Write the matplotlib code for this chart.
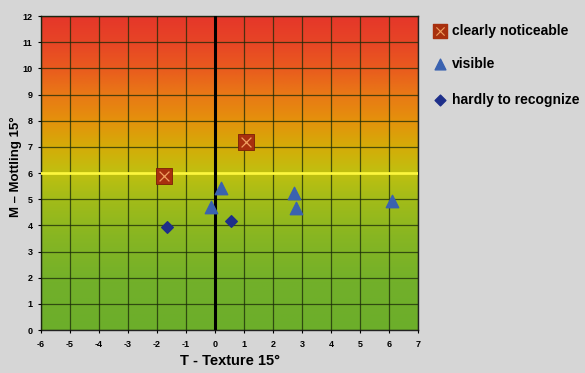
import matplotlib
matplotlib.use("Agg")
import matplotlib.pyplot as plt
import numpy as np
from matplotlib.colors import LinearSegmentedColormap

plt.rcParams['font.family'] = ['Liberation Sans', 'DejaVu Sans']
plt.rcParams['font.weight'] = 'bold'
plt.rcParams['axes.unicode_minus'] = False

# data
clear_x = [-1.75, 1.07]
clear_y = [5.9, 7.2]
visible_x = [0.21, -0.14, 2.72, 2.79, 6.1]
visible_y = [5.43, 4.72, 5.23, 4.68, 4.93]
hardly_x = [-1.66, 0.55]
hardly_y = [3.95, 4.18]
legend_labels = ["clearly noticeable", "visible", "hardly to recognize"]

bg = "#d6d6d6"
fig = plt.figure(figsize=(5.85, 3.73), dpi=100, facecolor=bg)
ax = fig.add_axes([0.070, 0.115, 0.645, 0.842])

# background gradient (bottom -> top)
stops = [(0.0, "#6cae2a"), (0.15, "#72b02a"), (0.3, "#88b622"),
         (0.42, "#a4bc18"), (0.5, "#c0c010"), (0.58, "#d4ac08"),
         (0.67, "#e5900c"), (0.75, "#e97816"), (0.84, "#e9581f"),
         (0.92, "#e74426"), (1.0, "#e5362a")]
cmap = LinearSegmentedColormap.from_list("bg", stops)
grad = np.linspace(0, 1, 256).reshape(-1, 1)
ax.imshow(grad, cmap=cmap, aspect='auto', origin='lower',
          extent=[-6, 7, 0, 12], zorder=0)

ax.set_xlim(-6, 7)
ax.set_ylim(0, 12)
ax.set_xticks(np.arange(-6, 8, 1))
ax.set_yticks(np.arange(0, 13, 1))
ax.grid(True, color="#1a2a08", linewidth=0.9, alpha=0.75)
ax.set_axisbelow(False)

ax.axhline(6, color="#fcf63c", linewidth=2.0, zorder=3)
ax.axvline(0, color="black", linewidth=2.2, zorder=3)

ax.scatter(clear_x, clear_y, marker='s', s=130, color="#a8300e",
           edgecolors="#7a1e08", linewidths=0.6, zorder=4)
ax.scatter(clear_x, clear_y, marker='x', s=50, color="#f0a060",
           linewidths=0.9, zorder=5)
ax.scatter(visible_x, visible_y, marker='^', s=80, color="#3a62b0",
           zorder=4)
ax.scatter(hardly_x, hardly_y, marker='D', s=35, color="#1e2f8a",
           zorder=4)

for s in ax.spines.values():
    s.set_color("#222222")
    s.set_linewidth(1.0)
ax.tick_params(labelsize=6.5, length=2, width=0.8)
ax.tick_params(axis='y', pad=4)
ax.tick_params(axis='x', pad=5)
ax.set_xlabel("T - Texture 15°", fontsize=10.5, fontweight='bold', labelpad=4)
ax.set_ylabel("M \u2013 Mottling 15°", fontsize=9.5, fontweight='bold')
ax.yaxis.set_label_coords(-0.05, 0.52)

# legend drawn as text + markers in figure coords
lx_m, lx_t = 0.752, 0.772
ly = [0.918, 0.828, 0.733]
axl = fig.add_axes([0, 0, 1, 1], facecolor='none')
axl.set_xlim(0, 1)
axl.set_ylim(0, 1)
axl.axis('off')
axl.scatter([lx_m], [ly[0]], marker='s', s=90, color="#a8300e", zorder=3)
axl.scatter([lx_m], [ly[0]], marker='x', s=35, color="#f0a060", linewidths=0.8, zorder=4)
axl.scatter([lx_m], [ly[1]], marker='^', s=60, color="#3a62b0")
axl.scatter([lx_m], [ly[2]], marker='D', s=30, color="#1e2f8a")
for y, lab in zip(ly, legend_labels):
    axl.text(lx_t, y, lab, fontsize=10, fontweight='bold', va='center', ha='left')

fig.savefig("out.png", dpi=100, facecolor=bg)
